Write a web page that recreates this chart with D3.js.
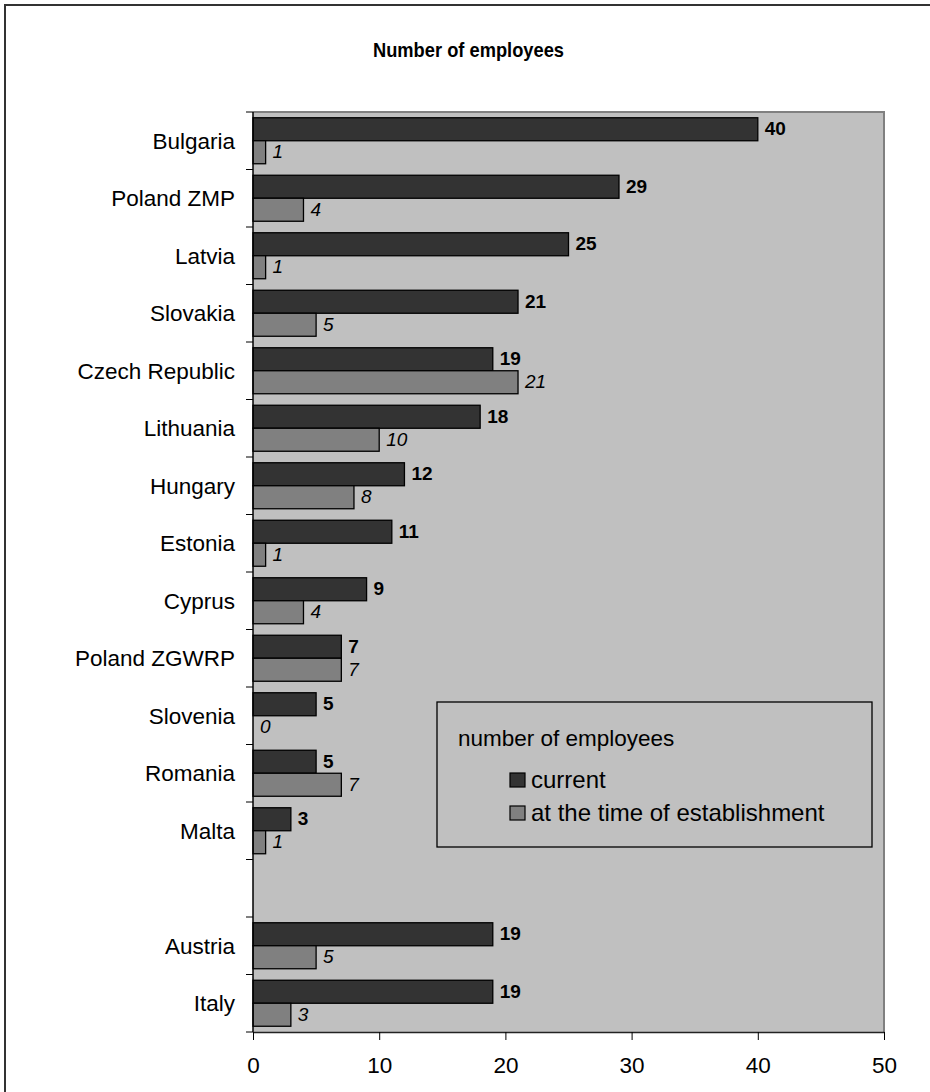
<!DOCTYPE html>
<html>
<head>
<meta charset="utf-8">
<script src="https://cdn.jsdelivr.net/npm/d3@7"></script>
<style>
  body { margin: 0; background: #fff; }
  svg { display: block; font-family: "Liberation Sans", Arial, sans-serif; }
</style>
</head>
<body>
<svg id="chart" width="930" height="1092"></svg>
<script>
// Employee counts per organisation (blank entry separates the two groups)
const categories = ["Bulgaria", "Poland ZMP", "Latvia", "Slovakia", "Czech Republic",
  "Lithuania", "Hungary", "Estonia", "Cyprus", "Poland ZGWRP", "Slovenia",
  "Romania", "Malta", "", "Austria", "Italy"];
const currentValues = [40, 29, 25, 21, 19, 18, 12, 11, 9, 7, 5, 5, 3, null, 19, 19];
const establishmentValues = [1, 4, 1, 5, 21, 10, 8, 1, 4, 7, 0, 7, 1, null, 5, 3];
const seriesNames = ["current", "at the time of establishment"];
const xTicks = [0, 10, 20, 30, 40, 50];

const colors = { current: "#333333", establishment: "#808080" };

const svg = d3.select("#chart");
const plot = { left: 253, right: 884, top: 112, bottom: 1032 };

// Outer chart frame
svg.append("rect")
  .attr("x", 5).attr("y", 5).attr("width", 960).attr("height", 1120)
  .attr("fill", "#fff").attr("stroke", "#333").attr("stroke-width", 2);

// Title
svg.append("text")
  .attr("x", 373).attr("y", 57)
  .attr("font-weight", "bold").attr("font-size", 21)
  .attr("textLength", 191).attr("lengthAdjust", "spacingAndGlyphs")
  .text("Number of employees");

const x = d3.scaleLinear().domain([0, 50]).range([plot.left, plot.right]);
const keys = categories.map((c, i) => c === "" ? "gap" + i : c);
const y = d3.scaleBand().domain(keys).range([plot.top, plot.bottom]).padding(0);
const inner = d3.scaleBand().domain(["current", "establishment"])
  .range([0, y.bandwidth()]).paddingInner(0).paddingOuter(0.25);

// Plot area background and border
svg.append("rect")
  .attr("x", plot.left).attr("y", plot.top)
  .attr("width", plot.right - plot.left).attr("height", plot.bottom - plot.top)
  .attr("fill", "#c0c0c0");
svg.append("path")
  .attr("d", `M${plot.left},${plot.top}H${plot.right}V${plot.bottom}`)
  .attr("fill", "none").attr("stroke", "#808080").attr("stroke-width", 2);

const rows = keys.map((k, i) => ({
  key: k, label: categories[i],
  current: currentValues[i], establishment: establishmentValues[i]
})).filter(d => d.current !== null);

const g = svg.append("g");

// Bars
["current", "establishment"].forEach(s => {
  g.selectAll("rect." + s)
    .data(rows.filter(d => d[s] > 0))
    .join("rect")
    .attr("class", s)
    .attr("x", x(0))
    .attr("y", d => y(d.key) + inner(s))
    .attr("width", d => x(d[s]) - x(0))
    .attr("height", inner.bandwidth())
    .attr("fill", colors[s])
    .attr("stroke", "#000").attr("stroke-width", 1.3);
});

// Value labels
g.selectAll("text.vcur")
  .data(rows).join("text")
  .attr("class", "vcur")
  .attr("x", d => x(d.current) + 7)
  .attr("y", d => y(d.key) + inner("current") + inner.bandwidth() / 2 + 6)
  .attr("font-size", 19).attr("font-weight", "bold")
  .text(d => d.current);
g.selectAll("text.vest")
  .data(rows).join("text")
  .attr("class", "vest")
  .attr("x", d => x(d.establishment) + 7)
  .attr("y", d => y(d.key) + inner("establishment") + inner.bandwidth() / 2 + 6)
  .attr("font-size", 19).attr("font-style", "italic")
  .text(d => d.establishment);

// Category labels
g.selectAll("text.cat")
  .data(rows).join("text")
  .attr("class", "cat")
  .attr("x", 235)
  .attr("y", d => y(d.key) + y.bandwidth() / 2 + 8)
  .attr("text-anchor", "end")
  .attr("font-size", 22.5)
  .text(d => d.label);

// Category axis (left) with ticks on band boundaries
const boundaries = keys.map(k => y(k)).concat([plot.bottom]);
svg.append("line")
  .attr("x1", plot.left).attr("x2", plot.left)
  .attr("y1", plot.top).attr("y2", plot.bottom)
  .attr("stroke", "#000").attr("stroke-width", 1.5);
svg.selectAll("line.ytick")
  .data(boundaries).join("line")
  .attr("class", "ytick")
  .attr("x1", plot.left - 7).attr("x2", plot.left)
  .attr("y1", d => d).attr("y2", d => d)
  .attr("stroke", "#000").attr("stroke-width", 1);

// Value axis (bottom)
const xAxis = svg.append("g")
  .attr("transform", `translate(0,${plot.bottom})`)
  .call(d3.axisBottom(x).tickValues(xTicks).tickSize(8).tickPadding(17).tickSizeOuter(0));
xAxis.select(".domain").attr("stroke", "#222").attr("stroke-width", 1.5);
xAxis.selectAll(".tick line").attr("stroke", "#000");
xAxis.selectAll(".tick text")
  .attr("font-size", 22.5).attr("fill", "#000")
  .attr("font-family", "'Liberation Sans', Arial, sans-serif");

// Legend
const legend = svg.append("g");
legend.append("rect")
  .attr("x", 437).attr("y", 702).attr("width", 435).attr("height", 145)
  .attr("fill", "#c0c0c0").attr("stroke", "#000").attr("stroke-width", 1.3);
legend.append("text")
  .attr("x", 458).attr("y", 746)
  .attr("font-size", 22.5)
  .text("number of employees");
["current", "establishment"].forEach((s, i) => {
  const yy = 773 + i * 33;
  legend.append("rect")
    .attr("x", 510).attr("y", yy).attr("width", 15).attr("height", 14)
    .attr("fill", colors[s]).attr("stroke", "#000").attr("stroke-width", 1.2);
  legend.append("text")
    .attr("x", 531).attr("y", yy + 15)
    .attr("font-size", 24)
    .text(seriesNames[i]);
});
</script>
</body>
</html>
